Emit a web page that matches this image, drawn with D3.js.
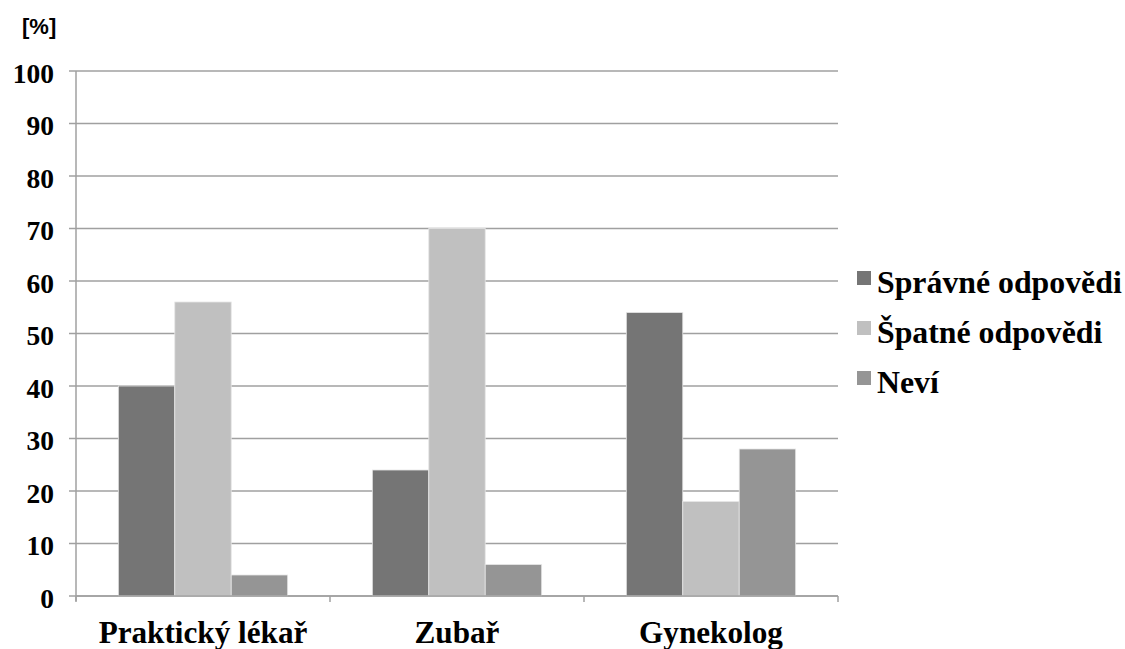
<!DOCTYPE html>
<html>
<head>
<meta charset="utf-8">
<script src="https://cdn.jsdelivr.net/npm/d3@7"></script>
<style>
  html, body { margin: 0; padding: 0; background: #ffffff; }
  svg { display: block; }
</style>
</head>
<body>
<svg id="chart" width="1125" height="649"></svg>
<script>
// Categories (x axis)
const categories = ["Praktický lékař", "Zubař", "Gynekolog"];
// Series names (legend)
const seriesNames = ["Správné odpovědi", "Špatné odpovědi", "Neví"];
// Values in percent, one array per series
const spravne = [40, 24, 54];
const spatne = [56, 70, 18];
const nevi = [4, 6, 28];
// Y axis tick values
const yTicks = [0, 10, 20, 30, 40, 50, 60, 70, 80, 90, 100];

const seriesValues = [spravne, spatne, nevi];
const colors = ["#757575", "#c0c0c0", "#959595"];
const serifFont = "Liberation Serif";
const sansFont = "Liberation Sans";

const svg = d3.select("#chart");
const plotLeft = 76, plotRight = 838, plotTop = 71, plotBottom = 596;

const x0 = d3.scaleBand().domain(categories).range([plotLeft, plotRight]).paddingInner(0).paddingOuter(0);
const x1 = d3.scaleBand().domain(d3.range(seriesNames.length))
  .range([0, x0.bandwidth()]).paddingInner(0).paddingOuter(0.75);
const y = d3.scaleLinear().domain([0, 100]).range([plotBottom, plotTop]);

// Gridlines
svg.append("g").selectAll("line").data(yTicks).join("line")
  .attr("x1", plotLeft - 7).attr("x2", plotRight)
  .attr("y1", d => y(d)).attr("y2", d => y(d))
  .attr("stroke", "#a0a0a0").attr("stroke-width", 1.5);

// Bars
const groups = svg.append("g").selectAll("g").data(categories).join("g")
  .attr("transform", d => `translate(${x0(d)},0)`);
groups.selectAll("rect")
  .data((c, ci) => seriesValues.map((vals, si) => ({ si, v: vals[ci] })))
  .join("rect")
  .attr("x", d => x1(d.si))
  .attr("width", x1.bandwidth())
  .attr("y", d => y(d.v))
  .attr("height", d => y(0) - y(d.v))
  .attr("fill", d => colors[d.si])
  .attr("stroke", "#e6e6e6").attr("stroke-width", 0.8);

// Y axis line
svg.append("line").attr("x1", plotLeft).attr("x2", plotLeft).attr("y1", plotTop).attr("y2", plotBottom + 5)
  .attr("stroke", "#a0a0a0").attr("stroke-width", 1.5);
// X axis line and category ticks
svg.append("line").attr("x1", plotLeft).attr("x2", plotRight).attr("y1", plotBottom).attr("y2", plotBottom)
  .attr("stroke", "#a0a0a0").attr("stroke-width", 1.5);
const catEdges = categories.map(c => x0(c)).concat([plotRight]);
svg.append("g").selectAll("line").data(catEdges).join("line")
  .attr("x1", d => d).attr("x2", d => d).attr("y1", plotBottom).attr("y2", plotBottom + 6)
  .attr("stroke", "#a0a0a0").attr("stroke-width", 1.5);

// Y tick labels
svg.append("g").selectAll("text").data(yTicks).join("text")
  .attr("x", 54).attr("y", d => y(d) + 11.5)
  .attr("text-anchor", "end")
  .style("font-family", serifFont).style("font-weight", "bold").style("font-size", "27.5px")
  .attr("fill", "#000")
  .text(d => d);

// Category labels
svg.append("g").selectAll("text").data(categories).join("text")
  .attr("x", d => x0(d) + x0.bandwidth() / 2).attr("y", 643)
  .attr("text-anchor", "middle")
  .style("font-family", serifFont).style("font-weight", "bold").style("font-size", "31.2px")
  .attr("fill", "#000")
  .text(d => d);

// Unit label
svg.append("text").attr("x", 22).attr("y", 34)
  .style("font-family", sansFont).style("font-weight", "bold").style("font-size", "22px")
  .attr("fill", "#000")
  .text("[%]");

// Legend
const legend = svg.append("g").selectAll("g").data(seriesNames).join("g")
  .attr("transform", (d, i) => `translate(857,${293 + i * 50})`);
legend.append("rect").attr("x", 0).attr("y", -22).attr("width", 14).attr("height", 14)
  .attr("fill", (d, i) => colors[i]);
legend.append("text").attr("x", 20).attr("y", 0)
  .style("font-family", serifFont).style("font-weight", "bold").style("font-size", "31.8px")
  .attr("fill", "#000")
  .text(d => d);
</script>
</body>
</html>
